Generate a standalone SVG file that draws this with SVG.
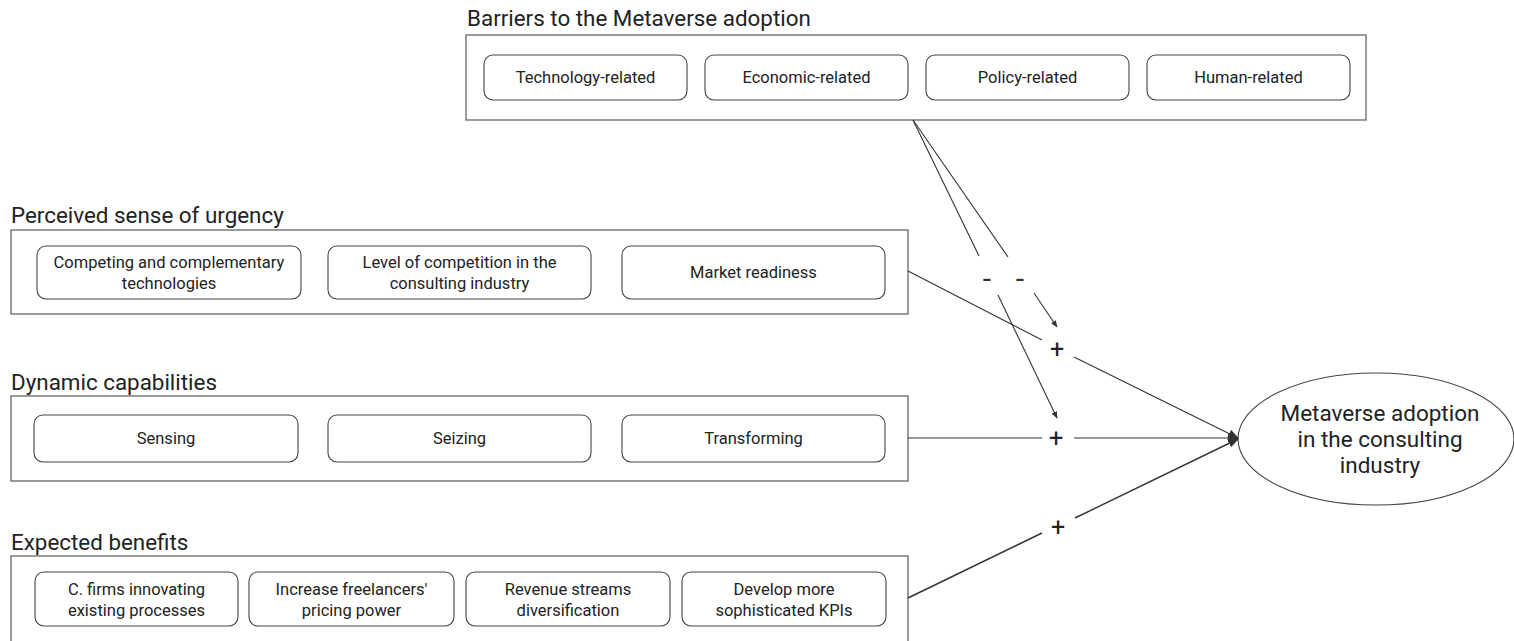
<svg xmlns="http://www.w3.org/2000/svg" width="1514" height="641" viewBox="0 0 1514 641">
<style>
.c{fill:#fff;stroke:#666;stroke-width:1.3}
.b{fill:#fff;stroke:#444;stroke-width:1.1}
.t{font-family:Roboto,"Liberation Sans",sans-serif;font-size:16.5px;fill:#222;text-anchor:middle}
.h{font-family:Roboto,"Liberation Sans",sans-serif;font-size:22.4px;fill:#222}
.e{font-family:Roboto,"Liberation Sans",sans-serif;font-size:22.5px;fill:#222;text-anchor:middle}
.s{font-family:Roboto,"Liberation Sans",sans-serif;font-size:25px;fill:#222;text-anchor:middle}
.m{font-family:Roboto,"Liberation Sans",sans-serif;font-size:30px;fill:#333;text-anchor:middle}
.l{stroke:#333;stroke-width:1.1;fill:none}
</style>
<defs>
<marker id="a" viewBox="0 0 10 10" refX="9" refY="5" markerWidth="7" markerHeight="7" orient="auto" markerUnits="userSpaceOnUse"><path d="M0,1 L10,5 L0,9 z" fill="#333"/></marker>
<marker id="a2" viewBox="0 0 10 10" refX="9" refY="5" markerWidth="11" markerHeight="11" orient="auto" markerUnits="userSpaceOnUse"><path d="M0,1 L10,5 L0,9 z" fill="#333"/></marker>
</defs>
<rect width="1514" height="641" fill="#fff"/>
<g id="barriers">
<text class="h" x="467" y="26">Barriers to the Metaverse adoption</text>
<rect class="c" x="466" y="35" width="900" height="85"/>
<rect class="b" x="484" y="55" width="203" height="45" rx="9"/>
<text class="t" x="585.5" y="83">Technology-related</text>
<rect class="b" x="705" y="55" width="203" height="45" rx="9"/>
<text class="t" x="806.5" y="83">Economic-related</text>
<rect class="b" x="926" y="55" width="203" height="45" rx="9"/>
<text class="t" x="1027.5" y="83">Policy-related</text>
<rect class="b" x="1147" y="55" width="203" height="45" rx="9"/>
<text class="t" x="1248.5" y="83">Human-related</text>
</g>
<g id="urgency">
<text class="h" x="11" y="223">Perceived sense of urgency</text>
<rect class="c" x="11" y="230" width="897" height="84"/>
<rect class="b" x="37" y="246" width="264" height="53" rx="9"/>
<text class="t" x="169" y="268">Competing and complementary</text>
<text class="t" x="169" y="289">technologies</text>
<rect class="b" x="328" y="246" width="263" height="53" rx="9"/>
<text class="t" x="459.5" y="268">Level of competition in the</text>
<text class="t" x="459.5" y="289">consulting industry</text>
<rect class="b" x="622" y="246" width="263" height="53" rx="9"/>
<text class="t" x="753.5" y="278">Market readiness</text>
</g>
<g id="dynamic">
<text class="h" x="11" y="390">Dynamic capabilities</text>
<rect class="c" x="11" y="396" width="897" height="85"/>
<rect class="b" x="34" y="415" width="264" height="47" rx="9"/>
<text class="t" x="166" y="444">Sensing</text>
<rect class="b" x="328" y="415" width="263" height="47" rx="9"/>
<text class="t" x="459.5" y="444">Seizing</text>
<rect class="b" x="622" y="415" width="263" height="47" rx="9"/>
<text class="t" x="753.5" y="444">Transforming</text>
</g>
<g id="benefits">
<text class="h" x="11" y="550">Expected benefits</text>
<rect class="c" x="11" y="556" width="897" height="90"/>
<rect class="b" x="35" y="572" width="203" height="54" rx="9"/>
<text class="t" x="136.5" y="595">C. firms innovating</text>
<text class="t" x="136.5" y="616">existing processes</text>
<rect class="b" x="249" y="572" width="205" height="54" rx="9"/>
<text class="t" x="351.5" y="595">Increase freelancers'</text>
<text class="t" x="351.5" y="616">pricing power</text>
<rect class="b" x="466" y="572" width="204" height="54" rx="9"/>
<text class="t" x="568" y="595">Revenue streams</text>
<text class="t" x="568" y="616">diversification</text>
<rect class="b" x="682" y="572" width="204" height="54" rx="9"/>
<text class="t" x="784" y="595">Develop more</text>
<text class="t" x="784" y="616">sophisticated KPIs</text>
</g>
<g id="adoption">
<ellipse cx="1376" cy="439" rx="138" ry="66" fill="#fff" stroke="#444" stroke-width="1.1"/>
<text class="e" x="1380" y="421">Metaverse adoption</text>
<text class="e" x="1380" y="447">in the consulting</text>
<text class="e" x="1380" y="473">industry</text>
</g>
<g id="connectors">
<path class="l" d="M913,120 L979,256"/>
<path class="l" d="M913,120 L1008,257"/>
<path class="l" d="M998,295 L1057,418" marker-end="url(#a)"/>
<path class="l" d="M1034,293 L1057,327" marker-end="url(#a)"/>
<path class="l" d="M908,271 L1042,340"/>
<path class="l" d="M1074,357 L1238,438" marker-end="url(#a2)"/>
<path class="l" d="M908,438 L1042,438"/>
<path class="l" d="M1074,438 L1238,438" marker-end="url(#a2)"/>
<path class="l" d="M908,598 L1042,533" style="stroke-width:1.4"/>
<path class="l" d="M1075,518 L1238,439" style="stroke-width:1.4" marker-end="url(#a2)"/>
<text class="m" x="987" y="289">-</text>
<text class="m" x="1020" y="289">-</text>
<text class="s" x="1057" y="358">+</text>
<text class="s" x="1056" y="447">+</text>
<text class="s" x="1058" y="536">+</text>
</g>
</svg>
